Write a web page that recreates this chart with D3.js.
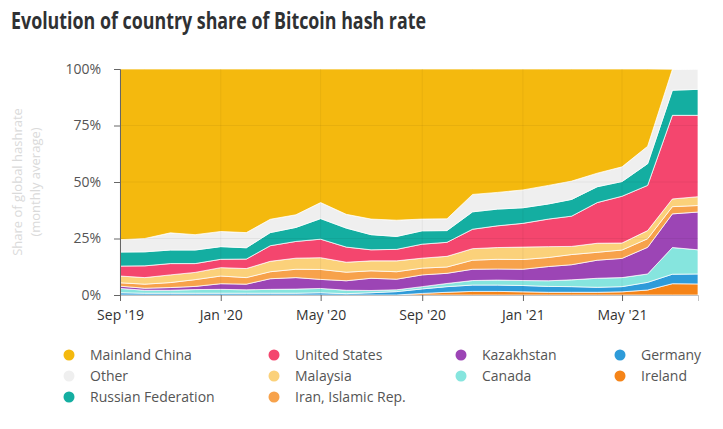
<!DOCTYPE html>
<html>
<head>
<meta charset="utf-8">
<script src="https://cdn.jsdelivr.net/npm/d3@7"></script>
<style>
  body { margin: 0; background: #fff; font-family: "Open Sans", sans-serif; }
</style>
</head>
<body>
<div id="chart"></div>
<script>
// months Sep 2019 .. Aug 2021
var months = ["2019-09","2019-10","2019-11","2019-12","2020-01","2020-02","2020-03","2020-04",
  "2020-05","2020-06","2020-07","2020-08","2020-09","2020-10","2020-11","2020-12",
  "2021-01","2021-02","2021-03","2021-04","2021-05","2021-06","2021-07","2021-08"];

// shares in %, bottom layer first
var ireland  = [0,0,0,0,0,0,0,0,0,0,0,0,0.7,1.2,1.6,1.6,1.4,1.2,1.2,1.2,1.4,2.2,5.0,4.9];
var germany  = [1.0,0.8,0.8,0.8,0.8,0.8,0.8,0.8,1.0,0.6,1.0,1.5,2.0,2.5,2.8,2.8,2.8,2.6,2.5,2.2,2.3,3.4,4.2,4.4];
var canada   = [1.9,1.3,1.3,1.6,1.7,1.5,1.7,1.8,1.9,1.5,1.0,0.8,1.0,1.4,2.0,2.2,2.2,2.5,3.0,4.0,4.0,3.7,11.8,10.7];
var kazakhstan = [1.0,0.9,1.2,1.4,2.5,2.5,4.7,5.1,4.0,4.2,5.4,4.7,5.2,4.5,5.0,4.9,5.0,6.3,6.7,8.0,8.5,11.8,14.9,16.7];
var iran     = [1.5,1.8,2.2,3.0,3.4,2.9,3.1,3.7,4.4,3.8,3.3,3.3,3.0,2.8,4.0,4.3,4.3,4.0,4.5,3.5,3.7,3.8,3.2,2.9];
var malaysia = [3.0,2.9,3.4,3.2,3.7,4.0,4.6,4.9,5.2,4.4,4.4,4.8,4.4,4.7,5.1,5.2,5.5,4.8,3.6,4.0,3.1,3.6,3.4,3.9];
var us       = [4.4,5.2,5.0,3.9,3.7,4.2,6.9,7.4,8.2,6.7,4.9,5.1,6.2,6.2,8.6,9.6,10.5,12.2,13.4,18.0,20.7,20.0,37.0,36.0];
var russia   = [6.2,6.2,6.0,6.0,5.6,5.0,5.8,6.2,9.1,8.4,6.7,5.7,5.9,5.2,7.7,7.4,6.9,6.7,7.4,7.0,6.5,9.6,11.1,11.5];
var other    = [5.5,5.9,7.6,6.8,6.7,6.7,5.9,5.6,7.1,6.1,6.9,7.2,5.2,5.2,7.7,7.4,7.9,8.2,8.1,6.0,6.5,7.7,9.3,9.0];
var china    = [75.5,75.0,72.5,73.3,71.9,72.4,66.5,64.5,59.1,64.3,66.4,66.9,66.4,66.3,55.5,54.6,53.5,51.5,49.6,46.1,43.3,34.2,0,0];

var yTicks = [0, 25, 50, 75, 100];

var keys   = ["Ireland","Germany","Canada","Kazakhstan","Iran, Islamic Rep.","Malaysia","United States","Russian Federation","Other","Mainland China"];
var series = [ireland, germany, canada, kazakhstan, iran, malaysia, us, russia, other, china];
var colors = ["#F58418","#2E9BD9","#86E5DE","#9C45B5","#F7A24B","#FBD17A","#F4466E","#14AEA1","#EFEFEF","#F4B90E"];

// legend order as shown
var legendCols = [
  ["Mainland China","Other","Russian Federation"],
  ["United States","Malaysia","Iran, Islamic Rep."],
  ["Kazakhstan","Canada"],
  ["Germany","Ireland"]
];

var parse = d3.timeParse("%Y-%m");
var table = months.map(function(m, i) {
  var row = { date: parse(m) };
  keys.forEach(function(k, j) { row[k] = series[j][i]; });
  return row;
});

var width = 723, height = 429;
var margin = { left: 120, right: 25, top: 69, bottom: 134 };

var svg = d3.select("#chart").append("svg")
  .attr("width", width)
  .attr("height", height);

var x = d3.scaleTime()
  .domain(d3.extent(table, function(d) { return d.date; }))
  .range([margin.left, width - margin.right]);

var y = d3.scaleLinear()
  .domain([0, 100])
  .range([height - margin.bottom, margin.top]);

var color = d3.scaleOrdinal().domain(keys).range(colors);

var stacked = d3.stack().keys(keys)(table);

var area = d3.area()
  .x(function(d) { return x(d.data.date); })
  .y0(function(d) { return y(d[0]); })
  .y1(function(d) { return y(d[1]); });

svg.append("g").selectAll("path")
  .data(stacked)
  .enter()
  .append("path")
  .attr("d", area)
  .attr("fill", function(d) { return color(d.key); })
  .attr("stroke", "#fff")
  .attr("stroke-width", 0.8)
  .attr("stroke-opacity", 0.9);

// faint grid over the areas
var xTicks = x.ticks(d3.timeMonth.every(4));
svg.append("g").selectAll("line.vg")
  .data(xTicks)
  .enter()
  .append("line")
  .attr("x1", function(d) { return x(d); })
  .attr("x2", function(d) { return x(d); })
  .attr("y1", y(100))
  .attr("y2", y(0))
  .attr("stroke", "#000")
  .attr("stroke-opacity", 0.05);

svg.append("g").selectAll("line.hg")
  .data(yTicks.slice(1, 4))
  .enter()
  .append("line")
  .attr("x1", x.range()[0])
  .attr("x2", x.range()[1])
  .attr("y1", function(d) { return y(d); })
  .attr("y2", function(d) { return y(d); })
  .attr("stroke", "#000")
  .attr("stroke-opacity", 0.05);

// axes
var yAxis = svg.append("g")
  .attr("transform", "translate(" + margin.left + ",0)")
  .call(d3.axisLeft(y).tickValues(yTicks).tickSize(6).tickPadding(13)
    .tickFormat(function(d) { return d + "%"; }));
yAxis.select(".domain").attr("stroke", "#666");
yAxis.selectAll(".tick line").attr("stroke", "#666");
yAxis.selectAll("text")
  .attr("fill", "#555")
  .style("font-family", "Open Sans")
  .style("font-size", "14px");

var xAxis = svg.append("g")
  .attr("transform", "translate(0," + y(0) + ")")
  .call(d3.axisBottom(x).tickValues(xTicks).tickSize(6).tickPadding(9)
    .tickFormat(d3.timeFormat("%b '%y")));
xAxis.select(".domain").attr("stroke", "#999").attr("stroke-opacity", 0.6);
xAxis.selectAll(".tick line").attr("stroke", "#666");
xAxis.selectAll("text")
  .attr("fill", "#333")
  .style("font-family", "Open Sans")
  .style("font-size", "14px");

// y axis title
var yt = svg.append("text")
  .attr("transform", "translate(22," + y(50) + ") rotate(-90)")
  .attr("text-anchor", "middle")
  .attr("fill", "#dadada")
  .style("font-family", "Open Sans")
  .style("font-size", "13px");
yt.append("tspan").attr("x", 0).attr("dy", 0).text("Share of global hashrate");
yt.append("tspan").attr("x", 0).attr("dy", 18).text("(monthly average)");

// title
svg.append("text")
  .attr("x", 11)
  .attr("y", 29)
  .attr("fill", "#2f3133")
  .attr("textLength", 415)
  .attr("lengthAdjust", "spacingAndGlyphs")
  .style("font-family", "Open Sans")
  .style("font-weight", "bold")
  .style("font-size", "23px")
  .text("Evolution of country share of Bitcoin hash rate");

// legend
var colX = [69, 274, 461, 620];
var rowY = [355, 376, 397];
legendCols.forEach(function(col, c) {
  var g = svg.append("g").attr("class", "legend");
  g.selectAll("circle")
    .data(col)
    .enter()
    .append("circle")
    .attr("cx", colX[c])
    .attr("cy", function(d, i) { return rowY[i]; })
    .attr("r", 5.5)
    .style("fill", function(d) { return color(d); });
  g.selectAll("text")
    .data(col)
    .enter()
    .append("text")
    .attr("x", colX[c] + 21)
    .attr("y", function(d, i) { return rowY[i]; })
    .attr("dy", "0.35em")
    .attr("fill", "#555")
    .style("font-family", "Open Sans")
    .style("font-size", "14px")
    .text(function(d) { return d; });
});
</script>
</body>
</html>
